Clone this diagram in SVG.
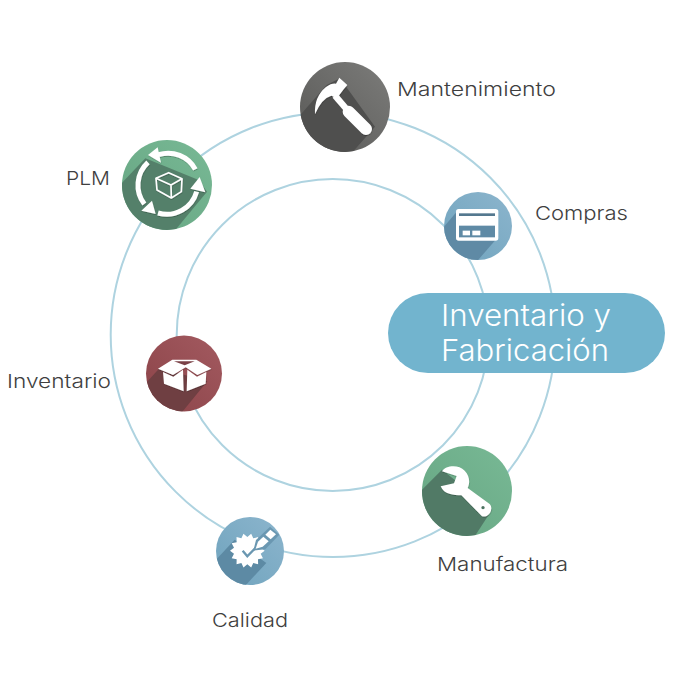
<svg xmlns="http://www.w3.org/2000/svg" width="690" height="690" viewBox="0 0 690 690">
<style>
.ring{fill:none;stroke:#aed3e0;stroke-width:2}
.lbl{font-family:"Inter","Liberation Sans",sans-serif;font-weight:300;font-size:19px;fill:#3f3f3f}
.ttl{font-family:"Inter","Liberation Sans",sans-serif;font-weight:300;font-size:30px;fill:#fff}
.w{fill:#fff}
.ws{fill:none;stroke:#fff;stroke-linejoin:round}
</style>
<defs>
<linearGradient id="gGrey" x1="1" y1="0" x2="0" y2="1"><stop offset="0" stop-color="#7c7c7a"/><stop offset="1" stop-color="#585856"/></linearGradient>
<linearGradient id="gGreen" x1="1" y1="0" x2="0" y2="1"><stop offset="0" stop-color="#78b995"/><stop offset="1" stop-color="#66a582"/></linearGradient>
<linearGradient id="gBlue" x1="1" y1="0" x2="0" y2="1"><stop offset="0" stop-color="#8cb5cd"/><stop offset="1" stop-color="#6fa3bd"/></linearGradient>
<linearGradient id="gRed" x1="1" y1="0" x2="0" y2="1"><stop offset="0" stop-color="#a35a60"/><stop offset="1" stop-color="#8b4348"/></linearGradient>
<filter id="ds" x="-20%" y="-20%" width="140%" height="140%"><feDropShadow dx="1" dy="3" stdDeviation="1" flood-color="#000" flood-opacity=".25"/></filter>
<clipPath id="c1"><circle cx="345" cy="107" r="45"/></clipPath>
<clipPath id="c2"><circle cx="167" cy="185" r="45"/></clipPath>
<clipPath id="c3"><circle cx="478" cy="226" r="34"/></clipPath>
<clipPath id="c4"><circle cx="184" cy="373.500" r="38"/></clipPath>
<clipPath id="c5"><circle cx="467" cy="491" r="45"/></clipPath>
<clipPath id="c6"><circle cx="250" cy="551" r="34"/></clipPath>
</defs>
<rect width="690" height="690" fill="#fff"/>
<g id="connectors">
<circle class="ring" cx="333" cy="334.700" r="222.300"/>
<circle class="ring" cx="332.700" cy="335" r="156"/>
</g>
<g id="node-mantenimiento">
<circle cx="345" cy="107" r="45" fill="url(#gGrey)"/>
<g clip-path="url(#c1)"><g transform="translate(290 55) scale(.3333)">
<polygon points="0,215 110,90 150,70 255,215 180,300 60,300" fill="#4f4f4e"/>
<g filter="url(#ds)">
<path class="w" d="M148,68 L172,90 L160,104 L150,118 L140,130 L124,122 Q95,130 75,178 Q72,125 108,96 Q125,84 138,86 Z"/>
<path d="M135,122 L172,165" fill="none" stroke="#fff" stroke-width="19"/>
<path d="M176,170 L228,222" fill="none" stroke="#fff" stroke-width="36" stroke-linecap="round"/>
</g>
</g></g>
</g>
<g id="node-plm">
<circle cx="167" cy="185" r="45" fill="url(#gGreen)"/>
<g clip-path="url(#c2)"><g transform="translate(112 130) scale(.3333)">
<polygon points="0,190 100,85 260,150 285,185 190,300 0,300" fill="#54806a"/>
<g filter="url(#ds)">
<path class="ws" stroke-width="15" d="M140,74 A93,93 0 0 1 250,118"/>
<polygon class="w" points="108,75 137,52 147,98"/>
<path class="ws" stroke-width="15" d="M108,97 A93,93 0 0 0 97,222"/>
<polygon class="w" points="131,252 88,242 120,212"/>
<path class="ws" stroke-width="15" d="M138,249 A93,93 0 0 0 254,185"/>
<polygon class="w" points="263,141 235,176 280,187"/>
<g fill="none" stroke="#fff" stroke-width="5" stroke-linejoin="round"><polygon points="132,145 170,128 210,146 208,185 178,204 135,180"/><path d="M132,145 L177,165 L210,146 M177,165 L178,204"/></g>
</g>
</g></g>
</g>
<g id="node-compras">
<circle cx="478" cy="226" r="34" fill="url(#gBlue)"/>
<g clip-path="url(#c3)"><g transform="translate(435 185) scale(.3333)">
<polygon points="10,145 65,80 190,155 125,230 10,230" fill="#5f8aa5"/>
<rect class="w" x="63" y="72" width="127" height="95" rx="8"/>
<rect x="72" y="85" width="108" height="8" fill="#54788f"/>
<rect x="72" y="122" width="108" height="35" fill="#5f8aa5"/>
<rect class="w" x="83" y="137" width="22" height="14"/>
<rect class="w" x="112" y="137" width="24" height="14"/>
</g></g>
</g>
<g id="node-inventario">
<circle cx="184" cy="373.500" r="38" fill="url(#gRed)"/>
<g clip-path="url(#c4)"><g transform="translate(138 328) scale(.3333)">
<polygon points="10,180 65,120 208,160 130,255 10,255" fill="#6f3f42"/>
<g filter="url(#ds)">
<polygon class="w" points="60,122 103,95 175,95 220,122 178,141 143,118 105,141"/>
<polygon points="108,100 170,100 140,112" fill="#7a4146"/>
<polygon class="w" points="75,132 106,146 135,125 137,190 78,167"/>
<polygon class="w" points="205,132 177,146 148,125 146,190 203,167"/>
</g>
</g></g>
</g>
<g id="node-manufactura">
<circle cx="467" cy="491" r="45" fill="url(#gGreen)"/>
<g clip-path="url(#c5)"><g transform="translate(412 438) scale(.3333)">
<polygon points="10,175 90,95 240,215 185,300 10,300" fill="#517a66"/>
<path class="w" filter="url(#ds)" fill-rule="evenodd" d="M90,100 C100,82 140,78 158,98 C174,115 174,135 167,150 L233,198 C246,212 232,240 210,235 L148,172 C125,172 96,170 86,145 L126,136 L134,114 Z M213,204 a5,5 0 1 0 .1,0 Z"/>
</g></g>
</g>
<g id="node-calidad">
<circle cx="250" cy="551" r="34" fill="url(#gBlue)"/>
<g clip-path="url(#c6)"><g transform="translate(208 508) scale(.3333)">
<polygon points="10,170 80,95 175,165 110,235 10,235" fill="#5d8aa4"/>
<polygon class="w" points="170,128 158,137 164.900,150.600 150,153.500 150.400,168.700 135.800,165 129.600,178.700 118,169 106.400,178.700 100.200,165 85.600,168.700 86,153.500 71.100,150.600 78,137 66,128 78,119 71.100,105.400 86,102.500 85.600,87.300 100.200,91 106.400,77.300 118,87 129.600,77.300 135.800,91 150.400,87.300 150,102.500 164.900,105.400 158,119"/>
<path d="M104,128 L118,145 L150,112" fill="none" stroke="#6a97b1" stroke-width="7"/>
<polygon points="136,128 144,96 186,56 214,80 172,124" fill="#6a97b1"/>
<polygon class="w" points="143,122 150,101 166,86 182,100 164,116"/>
<polygon class="w" points="172,80 187,65 204,79 188,94"/>
</g></g>
</g>
<g id="node-title">
<rect x="388" y="293" width="277" height="80" rx="40" fill="#72b4ce"/>
<text class="ttl" x="441" y="326" textLength="170" lengthAdjust="spacingAndGlyphs">Inventario y</text>
<text class="ttl" x="441" y="361" textLength="168" lengthAdjust="spacingAndGlyphs">Fabricación</text>
</g>
<g id="labels">
<text class="lbl" x="397" y="96" textLength="159" lengthAdjust="spacingAndGlyphs">Mantenimiento</text>
<text class="lbl" x="535" y="220" textLength="93" lengthAdjust="spacingAndGlyphs">Compras</text>
<text class="lbl" x="66" y="185" textLength="44" lengthAdjust="spacingAndGlyphs">PLM</text>
<text class="lbl" x="7" y="388" textLength="104" lengthAdjust="spacingAndGlyphs">Inventario</text>
<text class="lbl" x="437" y="571" textLength="131" lengthAdjust="spacingAndGlyphs">Manufactura</text>
<text class="lbl" x="212" y="627" textLength="76" lengthAdjust="spacingAndGlyphs">Calidad</text>
</g>
</svg>
